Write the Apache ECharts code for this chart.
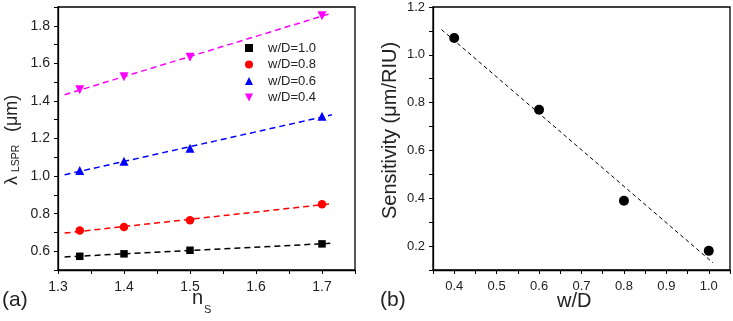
<!DOCTYPE html>
<html>
<head>
<meta charset="utf-8">
<script src="https://cdn.jsdelivr.net/npm/echarts@6/dist/echarts.min.js"></script>
<style>
  html, body { margin: 0; padding: 0; background: #fff; }
  #chart { width: 733px; height: 321px; }
</style>
</head>
<body>
<div id="chart"></div>
<script>
// panel (a): resonance wavelength vs substrate index
const nsValues = [1.333, 1.4, 1.5, 1.7];
const wd10 = [0.573, 0.586, 0.605, 0.639];
const wd08 = [0.710, 0.729, 0.765, 0.850];
const wd06 = [1.029, 1.079, 1.148, 1.318];
const wd04 = [1.460, 1.529, 1.633, 1.853];
const seriesNames = ['w/D=1.0', 'w/D=0.8', 'w/D=0.6', 'w/D=0.4'];
// panel (b): sensitivity vs w/D
const wdValues = [0.4, 0.6, 0.8, 1.0];
const sensitivity = [1.07, 0.77, 0.39, 0.18];
// x span of the dashed fit lines
const fitSpanA = [1.31, 1.715];
const fitSpanB = [0.37, 1.01];

const FONT = '"Liberation Sans", Arial, sans-serif';
const DOWN_TRIANGLE = 'path://M0,0L10,0L5,10Z';

// least squares line, evaluated at both ends of span
function fitLine(xs, ys, span) {
  const n = xs.length;
  const mx = xs.reduce((a, b) => a + b, 0) / n;
  const my = ys.reduce((a, b) => a + b, 0) / n;
  let sxy = 0, sxx = 0;
  for (let i = 0; i < n; i++) {
    sxy += (xs[i] - mx) * (ys[i] - my);
    sxx += (xs[i] - mx) * (xs[i] - mx);
  }
  const k = sxy / sxx;
  return span.map(x => [x, my + k * (x - mx)]);
}
const pairs = (xs, ys) => xs.map((x, i) => [x, ys[i]]);

// only label every other tick
const evenLabel = (step) => (v) => {
  const k = Math.round(v / step);
  return k % 2 === 0 ? (k * step).toFixed(1) : '';
};

// text placed by its baseline (zrender has no 'alphabetic', so shift a 'middle' box)
function label(text, x, baseline, size, extra) {
  return Object.assign({
    type: 'text', x: x, y: baseline - 0.3 * size,
    style: { text: text, font: size + 'px ' + FONT, fill: '#222', verticalAlign: 'middle' }
  }, extra || {});
}

const axisCommon = {
  axisLine: { show: true, onZero: false, lineStyle: { color: '#000', width: 1.3 } },
  axisTick: { show: true, inside: false, length: 4, lineStyle: { color: '#000', width: 1 } },
  splitLine: { show: false }
};

const groupA = [
  { data: wd10, color: '#000000', symbol: 'rect', size: 7.5 },
  { data: wd08, color: '#ff0000', symbol: 'circle', size: 8.5 },
  { data: wd06, color: '#0000ff', symbol: 'triangle', size: 9 },
  { data: wd04, color: '#ff00ff', symbol: DOWN_TRIANGLE, size: 9 }
];

const series = [];
groupA.forEach((g, i) => {
  series.push({
    name: seriesNames[i] + ' fit',
    type: 'line',
    xAxisIndex: 0, yAxisIndex: 0,
    data: fitLine(nsValues, g.data, fitSpanA),
    showSymbol: false,
    silent: true,
    z: 2,
    lineStyle: { color: g.color, width: 1.5, type: [6, 4] }
  });
});
groupA.forEach((g, i) => {
  series.push({
    name: seriesNames[i],
    type: 'scatter',
    xAxisIndex: 0, yAxisIndex: 0,
    data: pairs(nsValues, g.data),
    symbol: g.symbol,
    symbolSize: g.size,
    z: 3,
    itemStyle: { color: g.color, opacity: 1 }
  });
});
series.push({
  name: 'sensitivity fit',
  type: 'line',
  xAxisIndex: 1, yAxisIndex: 1,
  data: fitLine(wdValues, sensitivity, fitSpanB),
  showSymbol: false,
  silent: true,
  z: 2,
  lineStyle: { color: '#000', width: 1, type: [4, 3] }
});
series.push({
  name: 'sensitivity',
  type: 'scatter',
  xAxisIndex: 1, yAxisIndex: 1,
  data: pairs(wdValues, sensitivity),
  symbol: 'circle',
  symbolSize: 10,
  z: 3,
  itemStyle: { color: '#000', opacity: 1 }
});

const option = {
  animation: false,
  backgroundColor: '#fff',
  textStyle: { fontFamily: FONT },
  grid: [
    { left: 58, right: 378, top: 7, bottom: 51, show: true, borderColor: '#000', borderWidth: 1.3, backgroundColor: 'transparent' },
    { left: 433, right: 3, top: 7, bottom: 51, show: true, borderColor: '#000', borderWidth: 1.3, backgroundColor: 'transparent' }
  ],
  xAxis: [
    Object.assign({}, axisCommon, {
      type: 'value', gridIndex: 0, min: 1.3, max: 1.75, interval: 0.05,
      axisLabel: { color: '#222', fontSize: 14, fontFamily: FONT, margin: 10, formatter: evenLabel(0.05) }
    }),
    Object.assign({}, axisCommon, {
      type: 'value', gridIndex: 1, min: 0.35, max: 1.05, interval: 0.05,
      axisLabel: { color: '#222', fontSize: 13, fontFamily: FONT, margin: 10, formatter: evenLabel(0.05) }
    })
  ],
  yAxis: [
    Object.assign({}, axisCommon, {
      type: 'value', gridIndex: 0, min: 0.5, max: 1.9, interval: 0.1,
      axisLabel: { color: '#222', fontSize: 14, fontFamily: FONT, margin: 8, formatter: evenLabel(0.1) }
    }),
    Object.assign({}, axisCommon, {
      type: 'value', gridIndex: 1, min: 0.1, max: 1.2, interval: 0.1,
      axisLabel: { color: '#222', fontSize: 13, fontFamily: FONT, margin: 8, formatter: evenLabel(0.1) }
    })
  ],
  legend: {
    data: seriesNames,
    orient: 'vertical',
    left: 240,
    top: 36,
    itemWidth: 8,
    itemHeight: 8,
    itemGap: 2.5,
    textStyle: { color: '#222', fontSize: 13, fontFamily: FONT, lineHeight: 14, padding: [0, 0, 0, 10] }
  },
  graphic: [
    // y title of (a): lambda_LSPR (um), rotated, baseline on the right
    {
      type: 'group', x: 17, y: 185, rotation: Math.PI / 2,
      children: [
        label('λ', 0, 0, 18),
        label('LSPR', 13, 2.5, 10.5),
        label('(μm)', 53, 0, 18)
      ]
    },
    // x title of (a): n_S
    label('n', 192, 304, 20),
    label('S', 204, 313, 11),
    label('(a)', 2, 307, 21),
    // panel (b) titles
    label('Sensitivity (μm/RIU)', 0, 219, 20, { rotation: Math.PI / 2, x: 396 - 6, y: 219 }),
    label('w/D', 557, 307, 20),
    label('(b)', 380, 307, 21)
  ],
  series: series
};

const chart = echarts.init(document.getElementById('chart'), null, { renderer: 'canvas' });
chart.setOption(option);
</script>
</body>
</html>
